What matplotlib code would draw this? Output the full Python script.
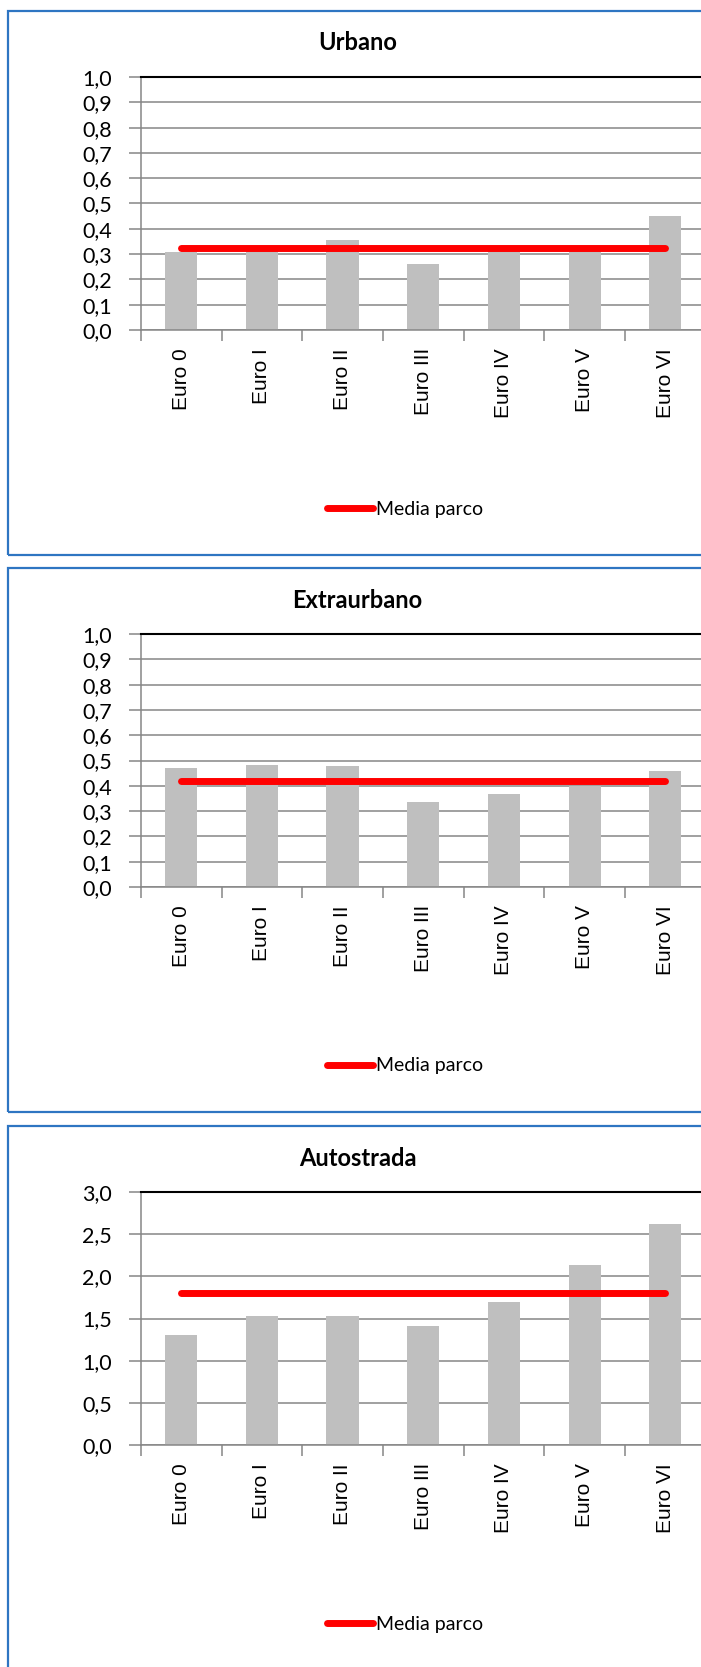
import numpy as np
import matplotlib.pyplot as plt
from matplotlib.patches import Rectangle

# dati: fattori medi per classe Euro, tre cicli di guida
categorie = ['Euro 0', 'Euro I', 'Euro II', 'Euro III', 'Euro IV', 'Euro V', 'Euro VI']
titoli = ['Urbano', 'Extraurbano', 'Autostrada']
urbano = [0.31, 0.32, 0.355, 0.26, 0.32, 0.32, 0.45]
extraurbano = [0.47, 0.483, 0.477, 0.337, 0.368, 0.40, 0.458]
autostrada = [1.30, 1.53, 1.53, 1.41, 1.70, 2.13, 2.62]
media_parco = [0.325, 0.417, 1.80]
y_max = [1.0, 1.0, 3.0]
y_passo = [0.1, 0.1, 0.5]

W, H = 701, 1667
fig = plt.figure(figsize=(W / 100, H / 100), dpi=100)
fig.patch.set_facecolor('white')

CALIBRI = ['Lato', 'DejaVu Sans']
ARIAL = ['Liberation Sans', 'DejaVu Sans']


def fx(px):
    return px / W


def fy(py):
    return 1 - py / H


pannelli_top = [11, 568, 1126]
alt_pannello = 544
serie = [urbano, extraurbano, autostrada]

for i, (titolo, valori) in enumerate(zip(titoli, serie)):
    top = pannelli_top[i]

    # cornice blu del grafico
    fig.add_artist(Rectangle((fx(8), fy(top + alt_pannello)),
                             fx(710) - fx(8), alt_pannello / H,
                             transform=fig.transFigure, fill=False,
                             ec='#2E75C2', lw=1.6))

    ax = fig.add_axes([fx(140.8), fy(top + 319),
                       fx(705.7) - fx(140.8), (319 - 66) / H])
    x = np.arange(len(categorie))
    ax.bar(x, valori, width=0.4, color='#BFBFBF', zorder=2)
    ax.plot(x, [media_parco[i]] * len(x), color='#FF0000', lw=5,
            solid_capstyle='round', zorder=3, label='Media parco')

    ax.set_xlim(-0.5, len(x) - 0.5)
    ax.set_ylim(0, y_max[i])
    yt = np.arange(0, y_max[i] + y_passo[i] / 2, y_passo[i])
    ax.set_yticks(yt)
    ax.set_yticklabels([f'{v:.1f}'.replace('.', ',') for v in yt],
                       family=CALIBRI, fontsize=15.5)
    ax.yaxis.grid(True, color='#868686', lw=1.1)
    ax.set_axisbelow(True)

    # tacche ai confini delle categorie, etichette al centro
    ax.set_xticks(np.arange(-0.5, len(x), 1))
    ax.set_xticklabels([])
    ax.set_xticks(x, minor=True)
    ax.set_xticklabels(categorie, minor=True, rotation=90, ha='center',
                       va='top', family=ARIAL, fontsize=15)
    ax.tick_params(axis='x', which='major', length=8, color='#868686', width=1.1)
    ax.tick_params(axis='x', which='minor', length=0, pad=13)
    ax.tick_params(axis='y', length=9, color='#868686', width=1.1, pad=12)

    for lato in ('left', 'bottom'):
        ax.spines[lato].set_color('#868686')
        ax.spines[lato].set_linewidth(1.1)
    ax.spines['top'].set_color('black')
    ax.spines['top'].set_linewidth(1.5)
    ax.spines['right'].set_visible(False)

    fig.text(fx(357.5), fy(top + 32), titolo, ha='center', va='center',
             fontweight='bold', fontsize=17, family=CALIBRI)

    ax.legend(loc='center', bbox_to_anchor=(fx(405), fy(top + 498)),
              bbox_transform=fig.transFigure, frameon=False,
              prop={'family': CALIBRI, 'size': 14},
              handlelength=2.4, handletextpad=0.15)

fig.savefig('out.png', dpi=100)
